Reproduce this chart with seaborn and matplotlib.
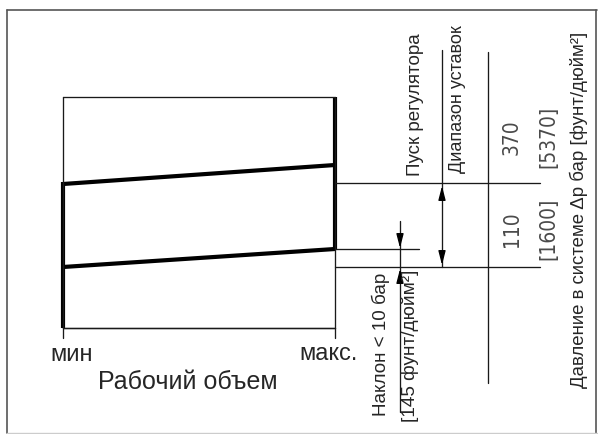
import matplotlib
matplotlib.use('Agg')
import matplotlib.pyplot as plt
from matplotlib import font_manager as fm
import pandas as pd
import seaborn as sns

sns.set_theme(style='white')
plt.rcParams['font.family'] = ['Liberation Sans', 'DejaVu Sans']

# ---------------- data (diagram units) ----------------
volume_labels = ['мин', 'макс.']
volume_x = [63, 335]                 # min / max displacement
start_curve = [267, 249]             # regulator start line at min -> max
setting_curve = [184, 165]           # upper setting line at min -> max
min_vol_stroke = [182, 328]          # thick vertical at min displacement
max_vol_stroke = [97, 249]           # thick vertical at max displacement
pressure_bar = ['110', '370']
pressure_psi = ['[1600]', '[5370]']
level_start = 267
level_setting = 183
level_slope = 249

# ---------------- figure ----------------
fig = plt.figure(figsize=(5.98, 4.34), dpi=100)
ax = fig.add_axes([0, 0, 1, 1])
ax.set_xlim(0, 598)
ax.set_ylim(434, 0)
ax.axis('off')

# thick characteristic curves
thick = pd.DataFrame({
    'x': [volume_x[0], volume_x[1], volume_x[0], volume_x[1],
          volume_x[0], volume_x[0], volume_x[1], volume_x[1]],
    'y': [start_curve[0], start_curve[1], setting_curve[0], setting_curve[1],
          min_vol_stroke[0], min_vol_stroke[1], max_vol_stroke[0], max_vol_stroke[1]],
    'seg': [0, 0, 1, 1, 2, 2, 3, 3],
})
sns.lineplot(data=thick, x='x', y='y', units='seg', estimator=None, sort=False,
             color='black', linewidth=3.0, legend=False, ax=ax,
             solid_capstyle='butt')

# thin reference lines
thin = pd.DataFrame({
    'x': [63, 335, 335, 335, 335, 63, 63, 63, 63, 335, 335,      # box
          63, 63, 335, 335,                                      # ticks
          335, 540, 335, 419, 335, 540,                          # horizontals
          442, 442, 488, 488, 400, 400],                         # verticals
    'y': [97, 97, 97, 328, 328, 328, 97, 328, 328, 328, 328,
          328, 338, 328, 338,
          level_setting, level_setting, level_slope, level_slope, level_start, level_start,
          50, 267, 52, 383, 221, 412],
    'seg': [0, 0, 1, 1, 2, 2, 3, 3, 4, 4, 4,
            5, 5, 6, 6,
            7, 7, 8, 8, 9, 9,
            10, 10, 11, 11, 12, 12],
})
sns.lineplot(data=thin, x='x', y='y', units='seg', estimator=None, sort=False,
             color='#1a1a1a', linewidth=0.95, legend=False, ax=ax)

# outer frame
frame = pd.DataFrame({
    'x': [7, 597, 7, 7, 596, 596],
    'y': [10, 10, 10, 433, 10, 433],
    'seg': [0, 0, 1, 1, 2, 2],
})
sns.lineplot(data=frame, x='x', y='y', units='seg', estimator=None, sort=False,
             color='#555555', linewidth=1.2, legend=False, ax=ax)
ax.plot([7, 597], [432.5, 432.5], color='#cccccc', linewidth=1.0)

# arrow heads
arrow_kw = dict(arrowstyle='-|>,head_length=0.7,head_width=0.18', color='black',
                lw=0.95, shrinkA=0, shrinkB=0)
for tip, tail in [((442, 186), (442, 199)), ((442, 265), (442, 252)),
                  ((400, 248), (400, 234)), ((400, 269), (400, 279))]:
    ax.annotate('', xy=tip, xytext=tail, arrowprops=arrow_kw)

# fonts
names = {f.name for f in fm.fontManager.ttflist}
if 'Liberation Sans Narrow' in names:
    cond_kw = dict(family='Liberation Sans Narrow', fontsize=17)
elif any(f.name == 'DejaVu Sans' and f.stretch == 'condensed' for f in fm.fontManager.ttflist):
    cond_kw = dict(family='DejaVu Sans', fontstretch='condensed', fontsize=15)
else:
    cond_kw = dict(family='Liberation Sans', fontsize=14)

# texts
ax.text(volume_x[0] + 9, 355, volume_labels[0], ha='center', va='center', fontsize=17)
ax.text(volume_x[1] - 6, 354, volume_labels[1], ha='center', va='center', fontsize=17)
ax.text(188, 382, 'Рабочий объем', ha='center', va='center', fontsize=18)

ax.text(415, 176, 'Пуск регулятора', rotation=90, ha='center', va='bottom', fontsize=13.5)
ax.text(458, 173, 'Диапазон уставок', rotation=90, ha='center', va='bottom', fontsize=13)
ax.text(579, 388, 'Давление в системе Δp бар [фунт/дюйм²]', rotation=90,
        ha='center', va='bottom', fontsize=13.4)
ax.text(381, 416, 'Наклон < 10 бар', rotation=90, ha='center', va='bottom', fontsize=13.6)
ax.text(410, 422, '[145 фунт/дюйм²]', rotation=90, ha='center', va='bottom', fontsize=13.7)

num_color = '#4a4a4a'
ax.text(512, 137, pressure_bar[1], rotation=90, ha='center', va='center', color=num_color, **cond_kw)
ax.text(548, 137, pressure_psi[1], rotation=90, ha='center', va='center', color=num_color, **cond_kw)
ax.text(512, 229, pressure_bar[0], rotation=90, ha='center', va='center', color=num_color, **cond_kw)
ax.text(548, 229, pressure_psi[0], rotation=90, ha='center', va='center', color=num_color, **cond_kw)

fig.savefig('out.png', dpi=100, facecolor='white')
